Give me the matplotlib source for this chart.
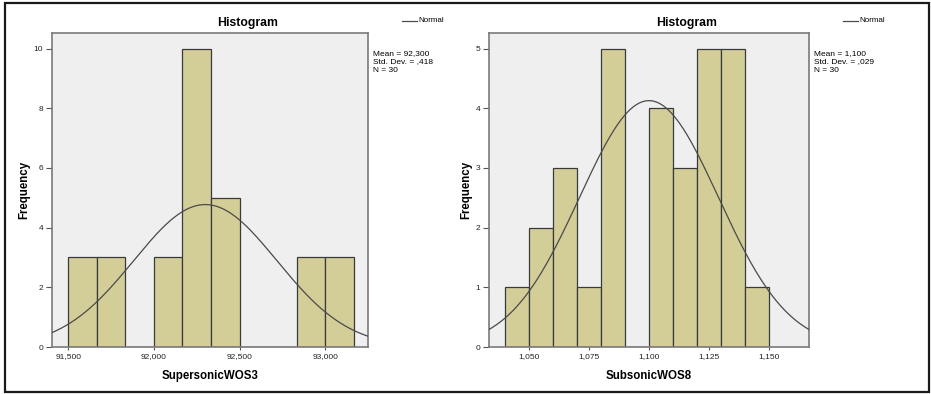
import numpy as np
import matplotlib
matplotlib.use("Agg")
import matplotlib.pyplot as plt
from matplotlib.patches import Rectangle

plt.rcParams['font.family'] = ['Liberation Sans', 'DejaVu Sans']

# left histogram: SupersonicWOS3
sup_edges = [91.5, 91.5 + 1/6, 91.5 + 2/6, 92.0, 92.0 + 1/6, 92.0 + 2/6, 92.5,
             92.5 + 1/6, 92.5 + 2/6, 93.0, 93.0 + 1/6]
sup_counts = [3, 3, 0, 3, 10, 5, 0, 0, 3, 3]
sup_mean, sup_sd, sup_n = 92.300, 0.418, 30
sup_ticks = [91.5, 92.0, 92.5, 93.0]
sup_ticklabels = ["91,500", "92,000", "92,500", "93,000"]
sup_stats = ["Mean = 92,300", "Std. Dev. = ,418", "N = 30"]

# right histogram: SubsonicWOS8
sub_edges = [1.04, 1.05, 1.06, 1.07, 1.08, 1.09, 1.10, 1.11, 1.12, 1.13, 1.14, 1.15]
sub_counts = [1, 2, 3, 1, 5, 0, 4, 3, 5, 5, 1]
sub_mean, sub_sd, sub_n = 1.100, 0.029, 30
sub_ticks = [1.05, 1.075, 1.10, 1.125, 1.15]
sub_ticklabels = ["1,050", "1,075", "1,100", "1,125", "1,150"]
sub_stats = ["Mean = 1,100", "Std. Dev. = ,029", "N = 30"]

W, H = 931, 394
fig = plt.figure(figsize=(W / 100, H / 100), dpi=100)

bar_color = '#d3ce98'
bg_color = '#efefef'


def px(x, y):
    return x / W, 1 - y / H


def panel(left, right, edges, counts, mean, sd, n, xlim, ylim, yticks,
          xticks, xticklabels, xlabel, stats):
    x0, y1 = px(left, 33)
    x1, y0 = px(right, 347)
    ax = fig.add_axes([x0, y0, x1 - x0, y1 - y0])
    ax.set_facecolor(bg_color)
    edges = np.array(edges)
    widths = np.diff(edges)
    ax.bar(edges[:-1], counts, width=widths, align='edge', color=bar_color,
           edgecolor='#3a3a3a', linewidth=0.9, zorder=2)
    bw = widths.mean()
    xs = np.linspace(xlim[0], xlim[1], 400)
    ys = n * bw / (sd * np.sqrt(2 * np.pi)) * np.exp(-0.5 * ((xs - mean) / sd) ** 2)
    ax.plot(xs, ys, color='#4a4a4a', linewidth=0.9, zorder=3, clip_on=True)
    ax.set_xlim(xlim)
    ax.set_ylim(ylim)
    ax.set_yticks(yticks)
    ax.set_xticks(xticks)
    ax.set_xticklabels(xticklabels)
    ax.tick_params(axis='both', labelsize=6, color='#555555', labelcolor='#222222',
                   width=0.8, pad=2)
    ax.tick_params(axis='y', length=4.5)
    ax.tick_params(axis='x', length=2.5)
    for s in ax.spines.values():
        s.set_color('#7a7a7a')
        s.set_linewidth(1.2)
    ax.set_xlabel(xlabel, fontsize=8.3, fontweight='bold', labelpad=7)
    ax.set_ylabel("Frequency", fontsize=8.3, fontweight='bold', labelpad=2)
    # title, shifted to the right like SPSS output
    cx = (left + right) / 2 + 38
    fig.text(*px(cx, 23), "Histogram", ha='center', va='center',
             fontsize=8.8, fontweight='bold')
    # legend
    lx = right + 34
    fig.add_artist(plt.Line2D([px(lx, 0)[0], px(lx + 15, 0)[0]],
                              [px(0, 20.7)[1]] * 2, color='#4a4a4a', linewidth=0.9))
    fig.text(*px(lx + 16, 21), "Normal", ha='left', va='center', fontsize=5.8)
    for i, line in enumerate(stats):
        fig.text(*px(right + 5, 53.5 + i * 8.5), line, ha='left', va='center',
                 fontsize=6)
    return ax


panel(52, 368, sup_edges, sup_counts, sup_mean, sup_sd, sup_n,
      (91.405, 93.25), (0, 10.52), [0, 2, 4, 6, 8, 10],
      sup_ticks, sup_ticklabels, "SupersonicWOS3", sup_stats)
panel(489, 809, sub_edges, sub_counts, sub_mean, sub_sd, sub_n,
      (1.0333, 1.1667), (0, 5.26), [0, 1, 2, 3, 4, 5],
      sub_ticks, sub_ticklabels, "SubsonicWOS8", sub_stats)

fx0, fy1 = px(5, 3)
fx1, fy0 = px(929, 392)
fig.add_artist(Rectangle((fx0, fy0), fx1 - fx0, fy1 - fy0, transform=fig.transFigure,
                         fill=False, edgecolor='#1a1a1a', linewidth=1.6))

fig.savefig("out.png", dpi=100)
